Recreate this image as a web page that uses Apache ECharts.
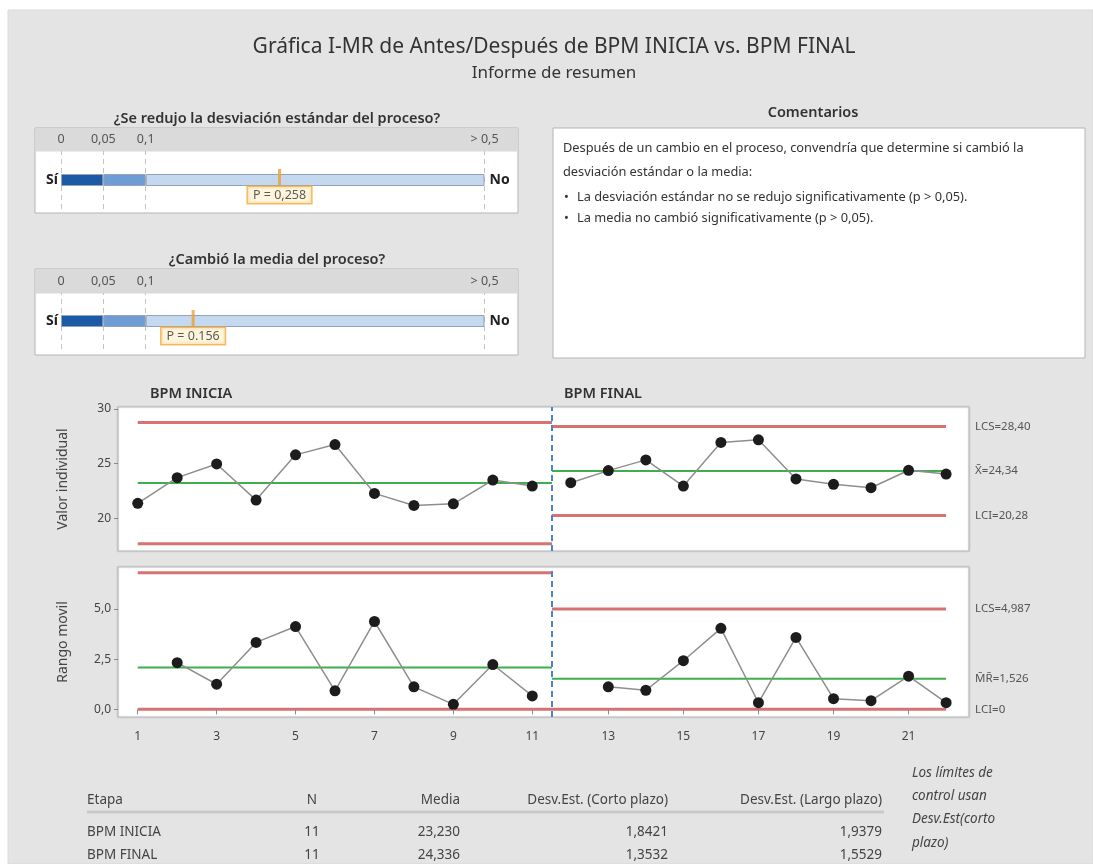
<!DOCTYPE html>
<html>
<head>
<meta charset="utf-8">
<script src="https://cdn.jsdelivr.net/npm/echarts@6/dist/echarts.min.js"></script>
<style>
html,body{margin:0;padding:0;background:#fff;}
#main{width:1093px;height:864px;}
</style>
</head>
<body>
<div id="main"></div>
<script>
// ---------------- DATA ----------------
const iniciaX = [1,2,3,4,5,6,7,8,9,10,11];
const iniciaVals = [21.38,23.73,24.98,21.68,25.81,26.75,22.29,21.19,21.34,23.51,22.96];
const finalX = [12,13,14,15,16,17,18,19,20,21,22];
const finalVals = [23.27,24.37,25.35,22.96,26.94,27.18,23.61,23.12,22.81,24.40,24.06];
const mrIniciaX = [2,3,4,5,6,7,8,9,10,11];
const mrIniciaVals = [2.32,1.25,3.33,4.12,0.92,4.37,1.12,0.25,2.23,0.67];
const mrFinalX = [13,14,15,16,17,18,19,20,21,22];
const mrFinalVals = [1.12,0.95,2.42,4.03,0.33,3.58,0.53,0.43,1.65,0.33];

// limits: [UCL, CL, LCL]
const iniciaLimits = [28.76, 23.23, 17.70];
const finalLimits = [28.40, 24.336, 20.28];
const mrIniciaLimits = [6.79, 2.078, 0];
const mrFinalLimits = [4.987, 1.526, 0];
const finalLimitLabels = ['LCS=28,40', 'X\u0304=24,34', 'LCI=20,28'];
const mrFinalLimitLabels = ['LCS=4,987', 'M\u0304R\u0304=1,526', 'LCI=0'];
const iniciaSpan = [1, 11.5];
const finalSpan = [11.5, 22];
const stageDivider = 11.5;
const stageNames = ['BPM INICIA', 'BPM FINAL'];

const xTicksLeft = [1,3,5,7,9,11];
const xTicksRight = [13,15,17,19,21];
const yTicksI = [20,25,30];
const yTicksMR = [0,2.5,5];

// p-value panels
const pQuestions = ['¿Se redujo la desviación estándar del proceso?', '¿Cambió la media del proceso?'];
const pValues = [0.258, 0.156];
const pLabels = ['P = 0,258', 'P = 0.156'];
const pTicks = [0, 0.05, 0.1, 0.5];
const pTickLabels = ['0', '0,05', '0,1', '> 0,5'];
const pZones = [0.05, 0.05, 0.4];

const commentLines = ['Después de un cambio en el proceso, convendría que determine si cambió la', 'desviación estándar o la media:'];
const commentBullets = ['La desviación estándar no se redujo significativamente (p > 0,05).', 'La media no cambió significativamente (p > 0,05).'];

const tableHeader = ['Etapa','N','Media','Desv.Est. (Corto plazo)','Desv.Est. (Largo plazo)'];
const etapas = ['BPM INICIA','BPM FINAL'];
const nVals = ['11','11'];
const medias = ['23,230','24,336'];
const desvCorto = ['1,8421','1,3532'];
const desvLargo = ['1,9379','1,5529'];
const noteLines = ['Los límites de','control usan','Desv.Est(corto','plazo)'];

// ---------------- LAYOUT / STYLE ----------------
const FONT = "'Noto Sans','DejaVu Sans',sans-serif";
const RED = '#d06464';
const GREEN = '#3fae4e';
const chart = echarts.init(document.getElementById('main'), null, {renderer:'canvas'});

const G_I = {top:407, height:144};
const G_MR = {top:567, height:150};
const LEFTX = 118, DIVX = 552, RIGHTX = 969;

function txt(x, y, text, o) {
  o = o || {};
  return {type:'text', x:x, y:y, z: o.z || 1, style:{
    text:text, fill:o.fill || '#333', font:(o.style||'normal') + ' ' + (o.weight||'normal') + ' ' + (o.size||12) + 'px ' + FONT,
    textAlign:o.align || 'left', textVerticalAlign:'middle'}};
}

const graphics = [];
graphics.push({type:'rect', shape:{x:8,y:10,width:1085,height:854}, style:{fill:'#e4e4e4', stroke:'#d9d9d9'}, z:0});
graphics.push(txt(554, 47, 'Gráfica I-MR de Antes/Después de BPM INICIA vs. BPM FINAL', {size:21, align:'center', fill:'#333'}));
graphics.push(txt(554, 73, 'Informe de resumen', {size:17, align:'center', fill:'#333'}));

// p panels frames
const pBoxes = [{title:119, top:128, head:23, h:85}, {title:260, top:269, head:24, h:86}];
pBoxes.forEach((b, i) => {
  graphics.push(txt(277, b.title, pQuestions[i], {size:14.5, weight:'600', align:'center', fill:'#333'}));
  graphics.push({type:'rect', shape:{x:35,y:b.top,width:483,height:b.h}, style:{fill:'#fff', stroke:'#b5b5b5', lineWidth:1}, z:1});
  graphics.push({type:'rect', shape:{x:35.5,y:b.top+0.5,width:482,height:b.head}, style:{fill:'#dadada'}, z:1});
});

// comments
graphics.push(txt(813, 113, 'Comentarios', {size:14.5, weight:'600', align:'center'}));
graphics.push({type:'rect', shape:{x:553,y:128,width:532,height:230}, style:{fill:'#fff', stroke:'#b5b5b5'}, z:1});
graphics.push(txt(563, 148, commentLines[0], {size:12.8, fill:'#333', z:2}));
graphics.push(txt(563, 172, commentLines[1], {size:12.8, fill:'#333', z:2}));
commentBullets.forEach((t, i) => {
  graphics.push(txt(564, 197 + i*21, '•', {size:12.8, fill:'#333', z:2}));
  graphics.push(txt(577, 197 + i*21, t, {size:12.8, fill:'#333', z:2}));
});

// plot frames
graphics.push({type:'rect', shape:{x:LEFTX,y:G_I.top,width:RIGHTX-LEFTX,height:G_I.height}, style:{fill:'#fff', stroke:'#bdbdbd', lineWidth:1.2, shadowBlur:2, shadowColor:'rgba(0,0,0,0.15)'}, z:1});
graphics.push({type:'rect', shape:{x:LEFTX,y:G_MR.top,width:RIGHTX-LEFTX,height:G_MR.height}, style:{fill:'#fff', stroke:'#bdbdbd', lineWidth:1.2, shadowBlur:2, shadowColor:'rgba(0,0,0,0.15)'}, z:1});
graphics.push(txt(150, 394, stageNames[0], {size:14.5, weight:'600', fill:'#333'}));
graphics.push(txt(564, 394, stageNames[1], {size:14.5, weight:'600', fill:'#333'}));

// table
const colX = [87, 312, 460, 668, 882];
const colAlign = ['left','center','right','right','right'];
tableHeader.forEach((h, i) => graphics.push(txt(colX[i], 800, h, {size:13.5, fill:'#444', align:colAlign[i]})));
graphics.push({type:'line', shape:{x1:87,y1:812,x2:884,y2:812}, style:{stroke:'#c9c9c9', lineWidth:3}, z:1});
etapas.forEach((e, r) => {
  const y = 832 + r*23;
  const row = [e, nVals[r], medias[r], desvCorto[r], desvLargo[r]];
  row.forEach((v, i) => graphics.push(txt(colX[i], y, v, {size:13.5, fill:'#444', align:colAlign[i]})));
});
noteLines.forEach((t, i) => graphics.push(txt(912, 773 + i*23.3, t, {size:13.5, style:'italic', fill:'#444'})));

// ---------------- GRIDS & AXES ----------------
const grids = [
  {left:61, top:151, width:423.5, height:58},
  {left:61, top:293, width:423.5, height:56},
  {left:LEFTX, top:G_I.top, width:DIVX-LEFTX, height:G_I.height},
  {left:DIVX, top:G_I.top, width:RIGHTX-DIVX, height:G_I.height},
  {left:LEFTX, top:G_MR.top, width:DIVX-LEFTX, height:G_MR.height},
  {left:DIVX, top:G_MR.top, width:RIGHTX-DIVX, height:G_MR.height}
];

function pXAxis(gi) {
  return {type:'value', gridIndex:gi, min:0, max:0.5, interval:0.05, position:'top', z:6,
    axisLine:{show:false}, axisTick:{show:false}, splitLine:{show:false},
    axisLabel:{margin:5, color:'#555', fontSize:12.5, fontFamily:FONT,
      formatter:(v) => { const k = pTicks.findIndex(t => Math.abs(t - v) < 1e-9); return k >= 0 ? pTickLabels[k] : ''; }}};
}
const axisTextStyle = {color:'#444', fontSize:12, fontFamily:FONT};
function chartX(gi, min, max, ticks, show) {
  return {type:'value', gridIndex:gi, min:min, max:max, show:true, z:6,
    axisLine:{show:false}, splitLine:{show:false},
    axisTick:{show:show, length:5, lineStyle:{color:'#888'}, customValues:ticks},
    axisLabel:Object.assign({show:show, margin:14, customValues:ticks}, axisTextStyle)};
}
function chartY(gi, min, max, ticks, show, name, fmt) {
  return {type:'value', gridIndex:gi, min:min, max:max, z:6,
    name:show ? name : '', nameLocation:'middle', nameGap:48,
    nameTextStyle:{color:'#444', fontSize:14, fontFamily:FONT},
    axisLine:{show:false}, splitLine:{show:false},
    axisTick:{show:show, length:4, lineStyle:{color:'#888'}, customValues:ticks},
    axisLabel:Object.assign({show:show, margin:7, customValues:ticks, formatter:fmt}, axisTextStyle)};
}
const fmtI = v => String(v);
const fmtMR = v => v.toFixed(1).replace('.', ',');

const xAxes = [
  pXAxis(0), pXAxis(1),
  chartX(2, 0.5, 11.5, xTicksLeft, false),
  chartX(3, 11.5, 22.61, xTicksRight, false),
  chartX(4, 0.5, 11.5, xTicksLeft, true),
  chartX(5, 11.5, 22.61, xTicksRight, true)
];
function pYAxis(gi, label, pos) {
  return {type:'category', gridIndex:gi, data:[label], position:pos, z:6,
    axisLine:{show:false}, axisTick:{show:false},
    axisLabel:{margin:pos === 'left' ? 3 : 5, color:'#222', fontWeight:'bold', fontSize:14, fontFamily:FONT}};
}
const yAxes = [
  pYAxis(0, 'Sí', 'left'), pYAxis(0, 'No', 'right'),
  pYAxis(1, 'Sí', 'left'), pYAxis(1, 'No', 'right'),
  chartY(2, 17.03, 30.18, yTicksI, true, 'Valor individual', fmtI),
  chartY(3, 17.03, 30.18, yTicksI, false, '', fmtI),
  chartY(4, -0.38, 7.08, yTicksMR, true, 'Rango movil', fmtMR),
  chartY(5, -0.38, 7.08, yTicksMR, false, '', fmtMR)
];

// ---------------- SERIES ----------------
const series = [];
const zoneColors = ['#1b5ba6', '#6e9dd5', '#c4d8f0'];
[0, 1].forEach(p => {
  pZones.forEach((z, k) => {
    const s = {type:'bar', xAxisIndex:p, yAxisIndex:p*2, stack:'p'+p, data:[z], barWidth:12,
      itemStyle:{color:zoneColors[k], borderColor:'#95a3b5', borderWidth:1}, silent:true, z:2};
    if (k === 0) {
      s.markLine = {z:1, silent:true, symbol:'none', label:{show:false},
        lineStyle:{type:[5,4], color:'#c4c4c4', width:1},
        data:pTicks.map(t => ({xAxis:t}))};
    }
    series.push(s);
  });
  series.push({type:'scatter', xAxisIndex:p, yAxisIndex:p*2, data:[[pValues[p], 0]],
    symbol:'rect', symbolSize:[3, 16], symbolOffset:[0, -3], itemStyle:{color:'#f0a030'}, z:5, silent:true,
    label:{show:true, position:'bottom', distance:2, formatter:pLabels[p], color:'#333', fontSize:12.5, fontFamily:FONT,
      backgroundColor:'#fff3d4', borderColor:'#f2a83a', borderWidth:1.5, padding:[2,5,1,5]}});
});

function limitSeries(xi, yi, span, limits, labels) {
  limits.forEach((v, k) => {
    const isCL = k === 1;
    const s = {type:'line', xAxisIndex:xi, yAxisIndex:yi, data:[[span[0], v], [span[1], v]],
      symbol:'none', silent:true, z:2, clip:false,
      lineStyle:{color:isCL ? GREEN : RED, width:isCL ? 2 : 3, opacity:isCL ? 1 : 0.9}};
    if (labels) {
      s.endLabel = {show:true, formatter:labels[k], distance:29, color:'#555', fontSize:11.5, fontFamily:FONT};
    }
    series.push(s);
  });
}
function dataSeries(xi, yi, xs, vals, withDivider) {
  const s = {type:'line', xAxisIndex:xi, yAxisIndex:yi, data:xs.map((x, i) => [x, vals[i]]),
    symbol:'circle', symbolSize:11, itemStyle:{color:'#1c1c1c'},
    lineStyle:{color:'#8e8e8e', width:1.5}, z:4, silent:true};
  if (withDivider) {
    s.markLine = {silent:true, symbol:'none', label:{show:false},
      lineStyle:{type:[6,4], color:'#4a86c8', width:2}, data:[{xAxis:stageDivider}]};
  }
  series.push(s);
}
limitSeries(2, 4, iniciaSpan, iniciaLimits, null);
limitSeries(3, 5, finalSpan, finalLimits, finalLimitLabels);
limitSeries(4, 6, iniciaSpan, mrIniciaLimits, null);
limitSeries(5, 7, finalSpan, mrFinalLimits, mrFinalLimitLabels);
dataSeries(2, 4, iniciaX, iniciaVals, true);
dataSeries(3, 5, finalX, finalVals, false);
dataSeries(4, 6, mrIniciaX, mrIniciaVals, true);
dataSeries(5, 7, mrFinalX, mrFinalVals, false);

chart.setOption({
  animation:false,
  backgroundColor:'#ffffff',
  textStyle:{fontFamily:FONT},
  graphic:{elements:graphics},
  grid:grids, xAxis:xAxes, yAxis:yAxes, series:series
});
</script>
</body>
</html>
